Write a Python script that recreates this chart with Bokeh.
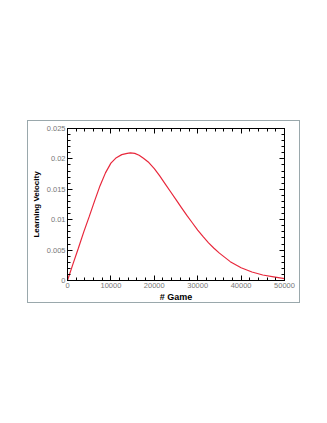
from bokeh.plotting import figure
from bokeh.layouts import column, row
from bokeh.models import (Spacer, Range1d, SingleIntervalTicker, LinearAxis,
                          CustomJSTickFormatter)
from bokeh.embed import file_html
from bokeh.resources import INLINE

games = [0, 1250, 2500, 3750, 5000, 6250, 7500, 8750, 10000, 11250, 12500,
         13750, 14500, 15500, 16500, 17500, 18750, 20000, 21250, 22500, 23750,
         25000, 26250, 27500, 28750, 30000, 31250, 32500, 33750, 35000, 36250,
         37500, 38750, 40000, 42500, 45000, 47500, 50000]
velocity = [0.0, 0.0027, 0.0053, 0.0080, 0.0105, 0.0131, 0.0156, 0.0177,
            0.0193, 0.0202, 0.0207, 0.0209, 0.0210, 0.0209, 0.0206, 0.0201,
            0.0194, 0.0184, 0.0172, 0.0159, 0.0146, 0.0133, 0.0120, 0.0107,
            0.0095, 0.0083, 0.0072, 0.0062, 0.0053, 0.0045, 0.0038, 0.0031,
            0.0026, 0.0021, 0.0014, 0.0009, 0.0006, 0.0003]

x_interval = 10000
y_interval = 0.005

p = figure(width=273, height=183, output_backend="svg", toolbar_location=None,
           x_range=Range1d(0, 50000), y_range=Range1d(0, 0.025),
           min_border_left=39, min_border_right=17, min_border_top=7,
           min_border_bottom=21)
p.styles = {"border": "1px solid #9aa8ac", "box-sizing": "border-box"}
p.grid.visible = False
p.outline_line_color = "black"
p.outline_line_width = 1
p.background_fill_color = "white"
p.border_fill_color = "white"

fmt = CustomJSTickFormatter(code="return String(+tick.toFixed(4));")
blank = CustomJSTickFormatter(code="return '';")

def style_axis(ax):
    ax.major_tick_in = 5
    ax.major_tick_out = 0
    ax.minor_tick_in = 3
    ax.minor_tick_out = 0
    ax.axis_line_color = "black"
    ax.major_tick_line_color = "black"
    ax.minor_tick_line_color = "black"
    ax.major_label_text_font = "Liberation Sans"
    ax.major_label_text_font_size = "7.5px"
    ax.major_label_text_color = "#777777"
    ax.major_label_standoff = 2
    ax.axis_label_text_font = "Liberation Sans Narrow, Liberation Sans"
    ax.axis_label_text_font_style = "bold"
    ax.axis_label_text_font_size = "9px"
    ax.axis_label_text_color = "black"
    ax.axis_label_standoff = 1

p.xaxis.ticker = SingleIntervalTicker(interval=x_interval, num_minor_ticks=5)
p.yaxis.ticker = SingleIntervalTicker(interval=y_interval, num_minor_ticks=5)
p.xaxis.formatter = fmt
p.yaxis.formatter = fmt
p.xaxis.axis_label = "# Game"
p.yaxis.axis_label = "Learning Velocity"
for ax in p.xaxis + p.yaxis:
    style_axis(ax)
p.yaxis.axis_label_text_font_size = "8px"
p.yaxis.axis_label_standoff = 3

top = LinearAxis(ticker=SingleIntervalTicker(interval=x_interval, num_minor_ticks=5),
                 formatter=blank)
right = LinearAxis(ticker=SingleIntervalTicker(interval=y_interval, num_minor_ticks=5),
                   formatter=blank)
for ax in (top, right):
    style_axis(ax)
    ax.major_label_standoff = 0
p.add_layout(top, "above")
p.add_layout(right, "right")

p.line(games, velocity, line_color="#e8283c", line_width=1.2)

layout = column(Spacer(height=120), row(Spacer(width=27), p))

open("out.html", "w").write(file_html(layout, INLINE))
